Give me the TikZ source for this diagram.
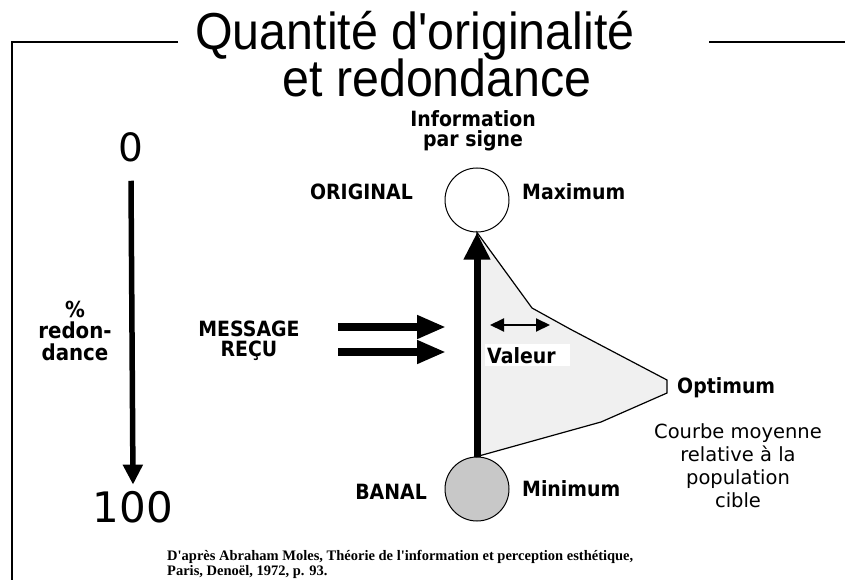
\documentclass[tikz,border=0pt]{standalone}
\usepackage{fontspec}
\setmainfont{DejaVu Sans}
\newfontfamily\lblfont{DejaVu Sans}[FakeStretch=0.9]
\newfontfamily\titlefont{Liberation Sans}[FakeStretch=0.93]
\newfontfamily\citefont{Liberation Serif}
\usetikzlibrary{arrows.meta}
\definecolor{curvefill}{RGB}{240,240,240}
\definecolor{banalfill}{RGB}{200,200,200}
\tikzset{
  frame/.style={line width=1.3pt},
  title/.style={inner sep=0pt, font=\titlefont\fontsize{52}{56}\selectfont},
  lbl/.style={inner sep=0pt, font=\lblfont\bfseries\fontsize{21}{20}\selectfont},
  body/.style={inner sep=0pt, font=\fontsize{19.5}{23}\selectfont},
  num/.style={inner sep=0pt, font=\fontsize{39}{40}\selectfont},
  cite/.style={inner sep=0pt, font=\citefont\bfseries\fontsize{14.5}{13}\selectfont},
  sign/.style={circle, draw, line width=1pt, minimum size=64pt, inner sep=0pt},
  mainarrow/.style={line width=7pt, -{Triangle[length=27pt,width=25pt]}},
  scalearrow/.style={line width=5.5pt, -{Triangle[length=20pt,width=19pt]}},
  msgarrow/.style={line width=8.5pt, -{Triangle[length=29pt,width=22pt]}},
  valarrow/.style={line width=2pt, {Triangle[length=14pt,width=13pt]}-{Triangle[length=14pt,width=13pt]}},
}
\begin{document}
\begin{tikzpicture}[x=1pt,y=-1pt]
\useasboundingbox (0,0) rectangle (845,580);

% frame lines
\draw[frame] (178,42) -- (12,42) -- (12,580);
\draw[frame] (709,42) -- (845,42);

% title
\node[title, anchor=base] (t1) at (415,50) {Quantité d'originalité};
\node[title, anchor=base] (t2) at (437,97) {et redondance};

% information axis (base anchor = last line)
\node[lbl, anchor=base, align=center, font=\lblfont\bfseries\fontsize{21}{20}\selectfont] (info) at (473,147) {Information\\par signe};

\node[sign, fill=white] (orig) at (477,200) {};
\node[sign, fill=banalfill] (banal) at (477,489) {};

% average curve of the target population
\filldraw[fill=curvefill, draw=black, line width=1.2pt, line join=miter]
  (orig.south) -- (532,308) -- (570,329) -- (667,380) -- (667,393)
  -- (601,422) -- (banal.north) -- cycle;

\draw[mainarrow] (banal.north) -- (orig.south);

\node[lbl, anchor=base east] (original) at (413,200) {ORIGINAL};
\node[lbl, anchor=base west] (maximum) at (522,200) {Maximum};
\node[lbl, anchor=base east] (banallbl) at (427,499) {BANAL};
\node[lbl, anchor=base west] (minimum) at (522,496) {Minimum};
\node[lbl, anchor=base west] (optimum) at (677,393) {Optimum};

% value
\draw[valarrow] (490,325) -- (550,325);
\node[lbl, fill=white, inner xsep=2pt, inner ysep=3pt, text width=81pt, align=left, anchor=base west] (valeur) at (485,363) {Valeur};

% received message
\node[lbl, anchor=base, align=center] (message) at (249,356) {MESSAGE\\REÇU};
\coordinate (m1a) at (338,327);
\coordinate (m1b) at (446,327);
\coordinate (m2a) at (338,352);
\coordinate (m2b) at (446,352);
\draw[msgarrow] (m1a) -- (m1b);
\draw[msgarrow] (m2a) -- (m2b);

% redundancy scale
\node[num, anchor=base] (zero) at (131,162) {0};
\node[num, anchor=base, font=\fontsize{42}{42}\selectfont] (hundred) at (133,522) {100};
\draw[scalearrow] ([yshift=-18pt]zero.south) -- ([yshift=6pt]hundred.north);
\node[lbl, anchor=base, align=center, font=\lblfont\bfseries\fontsize{22}{21.5}\selectfont] (redond) at (75,360) {\%\\redon-\\dance};

% population note
\node[body, anchor=base, align=center] (courbe) at (738,507) {Courbe moyenne\\relative à la\\population\\cible};

% source
\node[cite, anchor=base west, align=left] (source) at (167,575) {D'après Abraham Moles, Théorie de l'information et perception esthétique,\\Paris, Denoël, 1972, p. 93.};
\end{tikzpicture}
\end{document}
